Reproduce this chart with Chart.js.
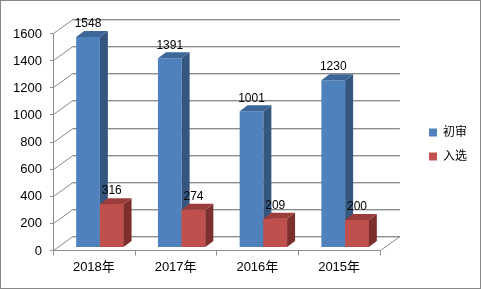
<!DOCTYPE html>
<html><head><meta charset="utf-8">
<script src="https://cdn.jsdelivr.net/npm/chart.js@4/dist/chart.umd.min.js"></script>
<style>html,body{margin:0;padding:0;background:#fff}canvas{display:block}</style>
</head><body>
<canvas id="c" width="481" height="289"></canvas>
<script>
const categories = ['2018年', '2017年', '2016年', '2015年'];
const seriesNames = ['初审', '入选'];
const firstReview = [1548, 1391, 1001, 1230];
const selected = [316, 274, 209, 200];
const yTicks = [0, 200, 400, 600, 800, 1000, 1200, 1400, 1600];

const FONT = '"Liberation Sans", Arial, "Noto Sans CJK SC", sans-serif';
const DEPTH = {dx: 8, dy: -6};
const FRONT = {dx: -6, dy: 3};
const BACK = {dx: 14, dy: -11};
const faceColors = [
  {front: '#4F81BD', side: '#35577f', top: '#3d6699'},
  {front: '#C0504D', side: '#7d2f2d', top: '#9c3d3b'}
];

function line(ctx, x1, y1, x2, y2) {
  ctx.beginPath(); ctx.moveTo(x1, y1); ctx.lineTo(x2, y2); ctx.stroke();
}

const wallsPlugin = {
  id: 'walls',
  beforeDraw(chart) {
    const ctx = chart.ctx;
    ctx.save();
    ctx.fillStyle = '#fff';
    ctx.fillRect(0, 0, chart.width, chart.height);
    ctx.strokeStyle = '#878787';
    ctx.lineWidth = 1;
    ctx.strokeRect(0.5, 0.5, chart.width - 1, chart.height - 1);
    ctx.restore();
  },
  beforeDatasetsDraw(chart) {
    const ctx = chart.ctx, ys = chart.scales.y, a = chart.chartArea;
    ctx.save();
    ctx.lineWidth = 1;
    yTicks.forEach(v => {
      const yb = Math.round(ys.getPixelForValue(v) + BACK.dy) + 0.5;
      const yf = Math.round(ys.getPixelForValue(v) + FRONT.dy) + 0.5;
      ctx.strokeStyle = '#d4d4d4';
      line(ctx, a.left + BACK.dx, yb + 1, a.right + BACK.dx, yb + 1);
      ctx.strokeStyle = '#8c8c8c';
      line(ctx, a.left + BACK.dx, yb, a.right + BACK.dx, yb);
      line(ctx, Math.round(a.left + FRONT.dx) + 0.5, yf, a.left + BACK.dx, yb);
      line(ctx, Math.round(a.left + FRONT.dx) - 3, yf, Math.round(a.left + FRONT.dx) + 0.5, yf);
    });
    const xf = Math.round(a.left + FRONT.dx) + 0.5;
    const y0f = Math.round(ys.getPixelForValue(0) + FRONT.dy) + 0.5;
    const y0b = Math.round(ys.getPixelForValue(0) + BACK.dy) + 0.5;
    const yTopF = Math.round(ys.getPixelForValue(1600) + FRONT.dy) + 0.5;
    ctx.strokeStyle = '#8c8c8c';
    line(ctx, xf, y0f, xf, yTopF);
    const xr = Math.round(a.right + FRONT.dx) + 0.5;
    line(ctx, xf, y0f, xr, y0f);
    line(ctx, xr, y0f, a.right + BACK.dx, y0b);
    const n = categories.length;
    for (let i = 0; i <= n; i++) {
      const x = Math.round(a.left + FRONT.dx + i * (a.right - a.left) / n) + 0.5;
      line(ctx, x, y0f, x, y0f + 5);
    }
    ctx.restore();
  },
  afterDatasetsDraw(chart) {
    const ctx = chart.ctx;
    const metas = [chart.getDatasetMeta(0), chart.getDatasetMeta(1)];
    const bar = el => {
      const p = el.getProps(['x', 'y', 'base', 'width'], true);
      return {l: p.x - p.width / 2, r: p.x + p.width / 2, t: p.y, b: p.base, x: p.x};
    };
    const sideTop = (b, c) => {
      ctx.fillStyle = c.side;
      ctx.beginPath();
      ctx.moveTo(b.r, b.t); ctx.lineTo(b.r + DEPTH.dx, b.t + DEPTH.dy);
      ctx.lineTo(b.r + DEPTH.dx, b.b + DEPTH.dy); ctx.lineTo(b.r, b.b);
      ctx.closePath(); ctx.fill();
      ctx.fillStyle = c.top;
      ctx.beginPath();
      ctx.moveTo(b.l, b.t); ctx.lineTo(b.l + DEPTH.dx, b.t + DEPTH.dy);
      ctx.lineTo(b.r + DEPTH.dx, b.t + DEPTH.dy); ctx.lineTo(b.r, b.t);
      ctx.closePath(); ctx.fill();
    };
    ctx.save();
    categories.forEach((c, i) => {
      const b0 = bar(metas[0].data[i]);
      sideTop(b0, faceColors[0]);
      const b1 = bar(metas[1].data[i]);
      ctx.fillStyle = faceColors[1].front;
      ctx.fillRect(b1.l, b1.t, b1.r - b1.l, b1.b - b1.t);
      sideTop(b1, faceColors[1]);
    });
    ctx.fillStyle = '#000';
    ctx.font = '12px ' + FONT;
    ctx.textAlign = 'center';
    ctx.textBaseline = 'middle';
    [firstReview, selected].forEach((vals, d) => {
      vals.forEach((v, i) => {
        const b = bar(metas[d].data[i]);
        ctx.fillText(String(v), b.x, b.t - 13);
      });
    });
    ctx.restore();
  }
};

new Chart(document.getElementById('c'), {
  type: 'bar',
  data: {
    labels: categories,
    datasets: [
      {label: seriesNames[0], data: firstReview, backgroundColor: faceColors[0].front, xAxisID: 'x', yAxisID: 'y'},
      {label: seriesNames[1], data: selected, backgroundColor: faceColors[1].front, xAxisID: 'x', yAxisID: 'y'}
    ]
  },
  options: {
    responsive: false,
    animation: false,
    devicePixelRatio: 1,
    layout: {padding: {left: 0, right: 4, top: 0, bottom: 0}},
    datasets: {bar: {categoryPercentage: 0.58, barPercentage: 1}},
    scales: {
      x: {
        position: 'bottom',
        grid: {display: false, drawTicks: false},
        border: {display: false},
        ticks: {color: '#000', font: {size: 13, family: FONT}, padding: 13, labelOffset: -6, maxRotation: 0},
        afterFit: s => { s.height = 42; }
      },
      y: {
        position: 'left',
        min: 0, max: 1600,
        grid: {display: false, drawTicks: false},
        border: {display: false},
        ticks: {stepSize: 200, color: '#000', font: {size: 13, family: FONT}, padding: 17, labelOffset: 4,
          callback: v => String(v)},
        afterFit: s => { s.width = 59; }
      },
      x2: {
        type: 'linear', position: 'top', display: true,
        grid: {display: false, drawTicks: false}, border: {display: false},
        ticks: {display: false},
        afterFit: s => { s.height = 30; }
      },
      y2: {
        type: 'linear', position: 'right', display: true,
        grid: {display: false, drawTicks: false}, border: {display: false},
        ticks: {display: false},
        afterFit: s => { s.width = 31; }
      }
    },
    plugins: {
      legend: {
        position: 'right',
        align: 'center',
        labels: {boxWidth: 8, boxHeight: 8, padding: 12, color: '#000', font: {size: 12, family: FONT}}
      },
      tooltip: {enabled: false}
    }
  },
  plugins: [wallsPlugin]
});
</script>
</body></html>
